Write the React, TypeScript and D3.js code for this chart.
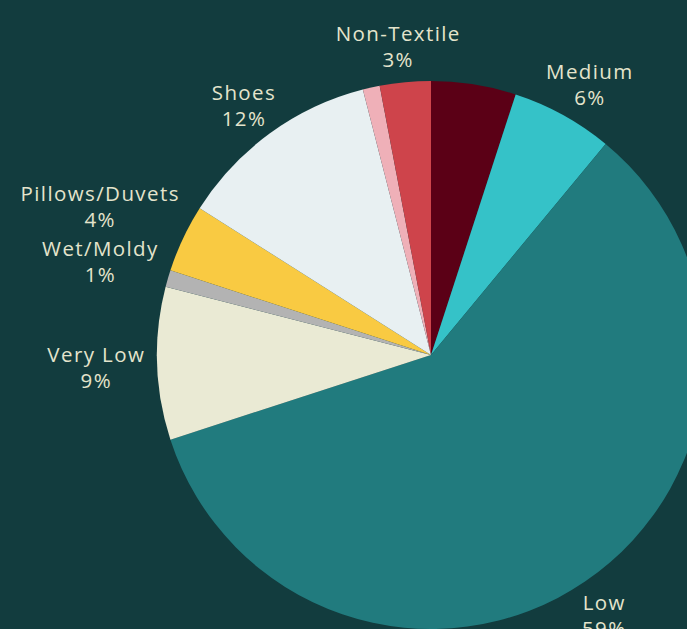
import React, { useMemo } from "react";
import * as d3 from "d3";

const categories = ["High", "Medium", "Low", "Very Low", "Wet/Moldy", "Pillows/Duvets", "Shoes", "Other", "Non-Textile"];
const values = [5, 6, 59, 9, 1, 4, 12, 1, 3];
const showLabel = [false, true, true, true, true, true, true, false, true];
const colors = ["#5b0016", "#35c2c8", "#217b7e", "#eaead4", "#b3b3b3", "#f9ca42", "#e8f0f2", "#efb0b8", "#ce444b"];

const W = 687;
const H = 629;
const BG = "#123c3e";
const TEXT = "#e4e4cc";
const FONT = "'Open Sans', sans-serif";
const FS = 20.5;
const LS = 1.4;

export default function App() {
  const cx = 431;
  const cy = 355;
  const r = 274;
  const data = categories.map((c, i) => ({ name: c, value: values[i], color: colors[i], show: showLabel[i] }));
  const pie = d3.pie<any>().sort(null).value((d) => d.value);
  const arcs = pie(data);
  const arcGen = d3.arc<any>().innerRadius(0).outerRadius(r);

  const measure = useMemo(() => {
    const c = document.createElement("canvas").getContext("2d")!;
    c.font = `${FS}px ${FONT}`;
    return (t: string) => c.measureText(t).width + LS * t.length;
  }, []);

  const lineH = 26;
  const pad = 4;
  const labelR = r + 8;

  const labels = arcs
    .filter((a) => a.data.show)
    .map((a) => {
      const mid = (a.startAngle + a.endAngle) / 2;
      const s = Math.sin(mid);
      const c = Math.cos(mid);
      const pct = `${a.data.value}%`;
      const w = Math.max(measure(a.data.name), measure(pct)) + pad * 2;
      const h = lineH * 2 + pad * 2;
      return { name: a.data.name, pct, x: s * labelR + s * (w / 2), y: -c * labelR - c * (h / 2), left: s < 0 };
    });

  // collision handling on the left side: overlapping labels are shifted upward
  const left = labels.filter((l) => l.left).sort((a, b) => b.y - a.y);
  const minGap = lineH * 2 + 3;
  for (let i = 1; i < left.length; i++) {
    const gap = left[i - 1].y - left[i].y;
    if (gap < minGap) {
      const over = minGap - gap;
      left[i - 1].y -= over;
      left[i].y = left[i - 1].y - minGap;
    }
  }

  const baseShift = 10;

  return (
    <svg width={W} height={H} style={{ position: "absolute", left: 0, top: 0, background: BG, display: "block" }}>
      <rect x={0} y={0} width={W} height={H} fill={BG} />
      <g transform={`translate(${cx},${cy})`}>
        {arcs.map((a, i) => (
          <path key={i} d={arcGen(a) as string} fill={a.data.color} />
        ))}
        {labels.map((l, i) => (
          <text
            key={"l" + i}
            x={l.x}
            y={l.y}
            textAnchor="middle"
            fill={TEXT}
            fontFamily={FONT}
            fontSize={FS}
            letterSpacing={LS}
            style={{ fontVariantLigatures: "none" }}
          >
            <tspan x={l.x} dy={-lineH / 2 + baseShift}>{l.name}</tspan>
            <tspan x={l.x} dy={lineH}>{l.pct}</tspan>
          </text>
        ))}
      </g>
    </svg>
  );
}
